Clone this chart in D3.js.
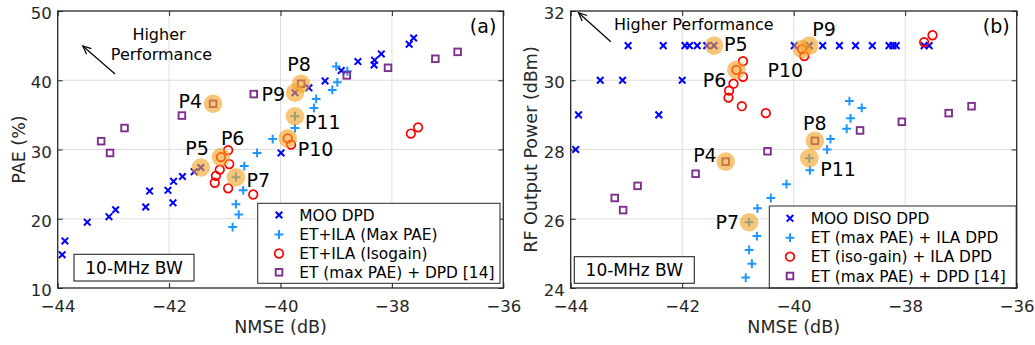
<!DOCTYPE html>
<html>
<head>
<meta charset="utf-8">
<script src="https://cdn.jsdelivr.net/npm/d3@7"></script>
<style>
  html, body { margin: 0; padding: 0; background: #fff; }
  svg { display: block; font-family: "DejaVu Sans", Verdana, sans-serif; }
</style>
</head>
<body>
<svg id="chart" width="1035" height="345"></svg>
<script>
// ---- Axis ticks ----
const nmseTicks = [-44, -42, -40, -38, -36];
const paeTicks = [10, 20, 30, 40, 50];
const poutTicks = [24, 26, 28, 30, 32];

// ---- (a) PAE vs NMSE ----
const mooNmseA = [-43.92, -43.87, -43.47, -43.08, -42.96, -42.42, -42.35, -42.02, -41.93, -41.92, -41.76, -41.55, -41.43, -39.99, -39.74, -39.49, -39.20, -38.91, -38.61, -38.31, -38.32, -38.19, -37.69, -37.61];
const mooPae    = [14.8, 16.8, 19.5, 20.3, 21.3, 21.7, 24.0, 24.1, 22.3, 25.4, 26.1, 26.8, 27.4, 29.5, 38.2, 38.9, 39.9, 41.4, 42.7, 42.9, 42.2, 43.8, 45.2, 46.1];

const maxNmseA = [-40.86, -40.75, -40.80, -40.67, -40.80, -40.65, -40.42, -40.14, -39.74, -39.74, -39.40, -39.36, -39.07, -38.98, -39.00, -38.80];
const maxPae   = [18.8, 20.6, 22.1, 24.1, 26.0, 27.6, 29.5, 31.5, 33.1, 34.8, 36.0, 37.3, 38.6, 39.7, 42.0, 41.3];

const isoNmseA = [-40.94, -41.07, -40.92, -41.09, -41.16, -41.18, -40.94, -40.49, -39.87, -39.81, -37.66, -37.53];
const isoPae   = [29.9, 28.9, 27.9, 27.1, 26.2, 25.2, 24.4, 23.5, 31.6, 30.7, 32.3, 33.2];

const refNmseA = [-43.22, -43.06, -42.80, -41.77, -41.21, -40.48, -39.63, -38.81, -38.07, -37.22, -36.82];
const refPae   = [31.2, 29.5, 33.1, 34.9, 36.6, 38.0, 39.5, 40.7, 41.8, 43.1, 44.1];

// ---- (b) RF output power vs NMSE ----
const mooNmseB = [-43.91, -43.86, -43.47, -43.07, -42.97, -42.42, -42.34, -42.00, -41.95, -41.87, -41.73, -41.56, -41.43, -39.99, -39.72, -39.48, -39.18, -38.89, -38.59, -38.29, -38.22, -38.16, -37.66, -37.57];
const mooPout  = [28, 29, 30, 30, 31, 29, 31, 30, 31, 31, 31, 31, 31, 31, 31, 31, 31, 31, 31, 31, 31, 31, 31, 31];

const maxNmseB = [-40.86, -40.75, -40.80, -40.66, -40.80, -40.65, -40.41, -40.13, -39.71, -39.72, -39.40, -39.34, -39.05, -38.98, -39.00, -38.78];
const maxPout  = [24.3, 24.7, 25.1, 25.5, 25.9, 26.3, 26.6, 27.0, 27.4, 27.75, 28.0, 28.3, 28.6, 28.9, 29.4, 29.2];

const isoNmseB = [-40.91, -41.03, -40.91, -41.08, -41.16, -41.17, -40.93, -40.50, -39.85, -39.81, -37.66, -37.51];
const isoPout  = [30.55, 30.3, 30.1, 29.9, 29.7, 29.5, 29.25, 29.05, 30.9, 30.7, 31.1, 31.3];

const refNmseB = [-43.21, -43.06, -42.80, -41.76, -41.22, -40.47, -39.62, -38.81, -38.06, -37.22, -36.81];
const refPout  = [26.6, 26.25, 26.95, 27.3, 27.65, 27.95, 28.25, 28.55, 28.8, 29.05, 29.25];

// ---- Legends ----
const legendA = ["MOO DPD", "ET+ILA (Max PAE)", "ET+ILA (Isogain)", "ET (max PAE) + DPD [14]"];
const legendB = ["MOO DISO DPD", "ET (max PAE) + ILA DPD", "ET (iso-gain) + ILA DPD", "ET (max PAE) + DPD [14]"];

// ---- Highlighted operating points: [label, series, index] ----
const pointsA = [["P4", "ref", 4], ["P5", "moo", 12], ["P6", "iso", 1], ["P7", "max", 4],
                 ["P8", "ref", 6], ["P9", "moo", 14], ["P10", "iso", 8], ["P11", "max", 9]];
const pointsB = [["P4", "ref", 4], ["P5", "moo", 12], ["P6", "iso", 1], ["P7", "max", 4],
                 ["P8", "ref", 6], ["P9", "moo", 14], ["P10", "iso", 8], ["P11", "max", 9]];

// label placement around each highlight: [dx, dy, anchor]
const labelPlaceA = {
  P4: [-11, 4.5, "end"], P5: [8, -13, "end"], P6: [0, -12, "start"], P7: [10.5, 9.5, "start"],
  P8: [-2, -13, "middle"], P9: [-10, 8, "end"], P10: [10, 17.7, "start"], P11: [10, 13, "start"]
};
const labelPlaceB = {
  P4: [-9, 0, "end"], P5: [10, 5, "start"], P6: [-10, 17, "end"], P7: [-10, 7, "end"],
  P8: [0, -11, "middle"], P9: [3, -10, "start"], P10: [1, 27.5, "end"], P11: [11, 18, "start"]
};

const INK = "#262626";
const styles = {
  moo: { shape: "x",      color: "#0000ff" },
  max: { shape: "plus",   color: "#1e96ff" },
  iso: { shape: "circle", color: "#ff0000" },
  ref: { shape: "square", color: "#7e2f8e" }
};
const order = ["moo", "max", "iso", "ref"];

const svg = d3.select("#chart");

function drawMarker(g, shape, color) {
  if (shape === "x") {
    g.append("path").attr("d", "M-3.3,-3.3L3.3,3.3M-3.3,3.3L3.3,-3.3")
      .attr("stroke", color).attr("stroke-width", 2).attr("fill", "none");
  } else if (shape === "plus") {
    g.append("path").attr("d", "M-4.4,0H4.4M0,-4.4V4.4")
      .attr("stroke", color).attr("stroke-width", 2).attr("fill", "none");
  } else if (shape === "circle") {
    g.append("circle").attr("r", 4.3)
      .attr("stroke", color).attr("stroke-width", 1.7).attr("fill", "none");
  } else {
    g.append("rect").attr("x", -3.3).attr("y", -3.3).attr("width", 6.6).attr("height", 6.6)
      .attr("stroke", color).attr("stroke-width", 1.9).attr("fill", "none");
  }
}

function drawPanel(cfg) {
  const x = d3.scaleLinear().domain([-44, -36]).range([cfg.left, cfg.right]);
  const y = d3.scaleLinear().domain(cfg.yDomain).range([cfg.bottom, cfg.top]);
  const root = svg.append("g");

  // grid
  const grid = root.append("g").attr("stroke", "#dedede").attr("stroke-width", 1);
  nmseTicks.slice(1, -1).forEach(t => grid.append("line")
    .attr("x1", x(t)).attr("x2", x(t)).attr("y1", cfg.top).attr("y2", cfg.bottom));
  cfg.yTicks.slice(1, -1).forEach(t => grid.append("line")
    .attr("x1", cfg.left).attr("x2", cfg.right).attr("y1", y(t)).attr("y2", y(t)));

  // data markers
  order.forEach(key => {
    const s = cfg.series[key];
    const g = root.append("g");
    s.x.forEach((xv, i) => {
      const m = g.append("g").attr("transform", `translate(${x(xv)},${y(s.y[i])})`);
      drawMarker(m, styles[key].shape, styles[key].color);
    });
  });

  // highlighted operating points
  const hl = root.append("g");
  cfg.points.forEach(([label, key, idx]) => {
    const s = cfg.series[key];
    const cx = x(s.x[idx]), cy = y(s.y[idx]);
    hl.append("circle").attr("cx", cx).attr("cy", cy).attr("r", 9.3)
      .attr("fill", "#f4a020").attr("fill-opacity", 0.6);
  });
  cfg.points.forEach(([label, key, idx]) => {
    const s = cfg.series[key];
    const cx = x(s.x[idx]), cy = y(s.y[idx]);
    const [dx, dy, anchor] = cfg.labelPlace[label];
    hl.append("text").attr("x", cx + dx).attr("y", cy + dy)
      .attr("text-anchor", anchor).attr("font-size", 19).attr("fill", "#000").text(label);
  });

  // axes (ticks point inward on all four sides)
  const fmt = d3.format("d");
  const xAxis = root.append("g").attr("transform", `translate(0,${cfg.bottom})`)
    .call(d3.axisBottom(x).tickValues(nmseTicks).tickFormat(fmt)
      .tickSizeInner(-5).tickSizeOuter(0).tickPadding(12));
  const xTop = root.append("g").attr("transform", `translate(0,${cfg.top})`)
    .call(d3.axisTop(x).tickValues(nmseTicks).tickFormat("").tickSizeInner(-5).tickSizeOuter(0));
  const yAxis = root.append("g").attr("transform", `translate(${cfg.left},0)`)
    .call(d3.axisLeft(y).tickValues(cfg.yTicks).tickFormat(fmt)
      .tickSizeInner(-5).tickSizeOuter(0).tickPadding(6));
  const yRight = root.append("g").attr("transform", `translate(${cfg.right},0)`)
    .call(d3.axisRight(y).tickValues(cfg.yTicks).tickFormat("").tickSizeInner(-5).tickSizeOuter(0));
  [xAxis, xTop, yAxis, yRight].forEach(a => {
    a.select(".domain").remove();
    a.selectAll(".tick line").attr("stroke", INK).attr("stroke-width", 1);
    a.selectAll(".tick text").attr("fill", INK).attr("font-size", 16.5)
      .attr("font-family", "DejaVu Sans, sans-serif");
  });
  yAxis.selectAll(".tick text").attr("dy", "0.46em");

  // legend
  const L = cfg.legend;
  const lg = root.append("g");
  lg.append("rect").attr("x", L.x0).attr("y", L.y0).attr("width", L.x1 - L.x0).attr("height", L.y1 - L.y0)
    .attr("fill", "#fff").attr("stroke", INK).attr("stroke-width", 1);
  order.forEach((key, i) => {
    const m = lg.append("g").attr("transform", `translate(${L.mx},${L.rows[i]})`);
    drawMarker(m, styles[key].shape, styles[key].color);
    lg.append("text").attr("x", L.tx).attr("y", L.rows[i]).attr("dy", "0.36em")
      .attr("font-size", 15.4).attr("fill", "#000").text(cfg.legendLabels[i]);
  });

  // bandwidth box
  const B = cfg.bwBox;
  root.append("rect").attr("x", B.x0).attr("y", B.y0).attr("width", B.x1 - B.x0).attr("height", B.y1 - B.y0)
    .attr("fill", "#fff").attr("stroke", INK).attr("stroke-width", 1.1);
  root.append("text").attr("x", (B.x0 + B.x1) / 2).attr("y", (B.y0 + B.y1) / 2).attr("dy", "0.36em")
    .attr("text-anchor", "middle").attr("font-size", 17).attr("fill", "#000").text("10-MHz BW");

  // axes box
  root.append("rect").attr("x", cfg.left).attr("y", cfg.top)
    .attr("width", cfg.right - cfg.left).attr("height", cfg.bottom - cfg.top)
    .attr("fill", "none").attr("stroke", INK).attr("stroke-width", 1.3);

  // panel tag
  root.append("text").attr("x", cfg.right - 7).attr("y", cfg.top + 22).attr("text-anchor", "end")
    .attr("font-size", 19).attr("fill", "#000").text(cfg.tag);

  // axis titles
  root.append("text").attr("x", (cfg.left + cfg.right) / 2).attr("y", 333)
    .attr("text-anchor", "middle").attr("font-size", 17.5).attr("fill", INK).text("NMSE (dB)");
  root.append("text").attr("transform", `translate(${cfg.yTitleX},${(cfg.top + cfg.bottom) / 2}) rotate(-90)`)
    .attr("text-anchor", "middle").attr("font-size", 17.5).attr("fill", INK).text(cfg.yTitle);

  // "Higher Performance" arrow
  const A = cfg.arrow;
  const ax = root.append("g").attr("stroke", "#000").attr("stroke-width", 1.2).attr("fill", "none");
  const x1 = x(A.from[0]), y1 = y(A.from[1]), x2 = x(A.to[0]), y2 = y(A.to[1]);
  ax.append("line").attr("x1", x1).attr("y1", y1).attr("x2", x2).attr("y2", y2);
  const ang = Math.atan2(y1 - y2, x1 - x2), hl2 = 9, spread = 0.42;
  ax.append("path").attr("d",
    `M${x2 + hl2 * Math.cos(ang - spread)},${y2 + hl2 * Math.sin(ang - spread)}L${x2},${y2}` +
    `L${x2 + hl2 * Math.cos(ang + spread)},${y2 + hl2 * Math.sin(ang + spread)}`);
  A.lines.forEach(l => root.append("text").attr("x", l.x).attr("y", l.y)
    .attr("text-anchor", l.anchor).attr("font-size", 16).attr("fill", "#000").text(l.text));

  return { x, y };
}

// (a)
drawPanel({
  left: 57.7, right: 503.3, top: 11, bottom: 288,
  yDomain: [10, 50], yTicks: paeTicks, yTitle: "PAE (%)", yTitleX: 25, tag: "(a)",
  series: {
    moo: { x: mooNmseA, y: mooPae }, max: { x: maxNmseA, y: maxPae },
    iso: { x: isoNmseA, y: isoPae }, ref: { x: refNmseA, y: refPae }
  },
  points: pointsA, labelPlace: labelPlaceA, legendLabels: legendA,
  legend: { x0: 257.7, x1: 500, y0: 203.3, y1: 283.3, mx: 279, tx: 299.3, rows: [215, 234.5, 253.5, 272.3] },
  bwBox: { x0: 74, x1: 194, y0: 254.3, y1: 281 },
  arrow: { from: [-42.97, 40.9], to: [-43.55, 44.95],
           lines: [{ x: 159, y: 40, anchor: "middle", text: "Higher" },
                   { x: 161.5, y: 60, anchor: "middle", text: "Performance" }] }
});

// (b)
drawPanel({
  left: 570.7, right: 1016.7, top: 11, bottom: 288,
  yDomain: [24, 32], yTicks: poutTicks, yTitle: "RF Output Power (dBm)", yTitleX: 537, tag: "(b)",
  series: {
    moo: { x: mooNmseB, y: mooPout }, max: { x: maxNmseB, y: maxPout },
    iso: { x: isoNmseB, y: isoPout }, ref: { x: refNmseB, y: refPout }
  },
  points: pointsB, labelPlace: labelPlaceB, legendLabels: legendB,
  legend: { x0: 769.3, x1: 1016.2, y0: 206, y1: 288, mx: 790, tx: 810.7, rows: [218.3, 237.7, 256.7, 276] },
  bwBox: { x0: 574.3, x1: 694.3, y0: 256.7, y1: 283.3 },
  arrow: { from: [-43.28, 31.11], to: [-43.86, 31.95],
           lines: [{ x: 614, y: 29.5, anchor: "start", text: "Higher Performance" }] }
});
</script>
</body>
</html>
